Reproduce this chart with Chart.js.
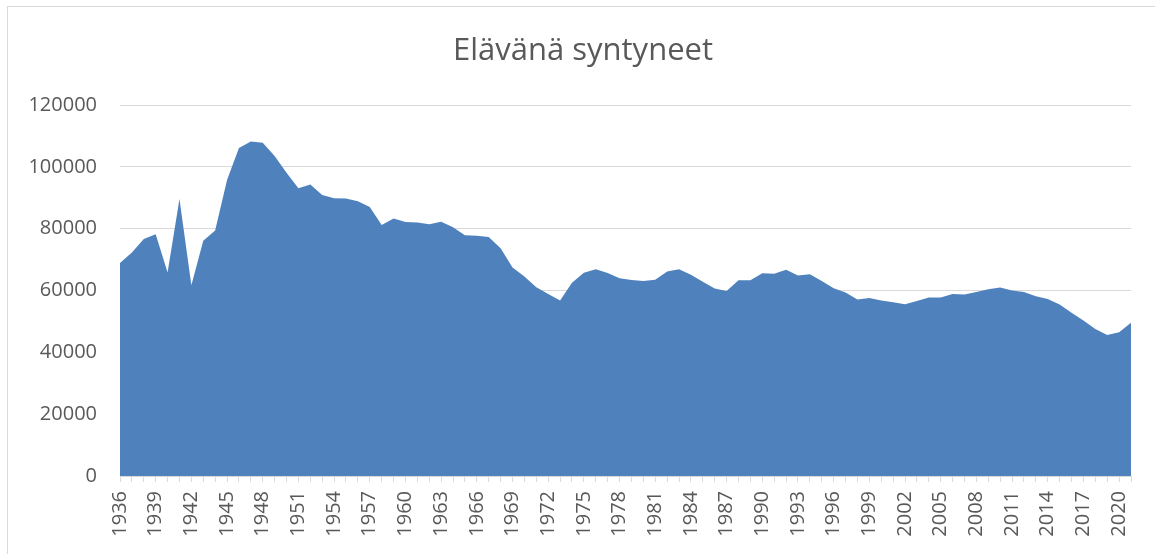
<!DOCTYPE html>
<html>
<head>
<meta charset="utf-8">
<script src="https://cdn.jsdelivr.net/npm/chart.js@4"></script>
<style>
  html, body { margin: 0; padding: 0; background: #fff; }
  #wrap { width: 1155px; height: 554px; position: relative; }
</style>
</head>
<body>
<div id="wrap"><canvas id="birthsChart" width="1155" height="554"></canvas></div>
<script>
// vuodet 1936-2021
const years = [];
for (let y = 1936; y <= 2021; y++) years.push(String(y));

// elävänä syntyneet (luettu kuvasta)
const births = [
  68895, 72319, 76695, 78164, 65849, 89565, 61672, 76112, 79446, 95758,
  106075, 108168, 107759, 103515, 98065, 93063, 94314, 90866, 89845, 89740,
  88896, 86985, 81148, 83253, 82129, 81996, 81454, 82251, 80428, 77885,
  77697, 77289, 73654, 67450, 64559, 61067, 58864, 56787, 62472, 65719,
  66846, 65659, 63983, 63428, 63064, 63469, 66106, 66892, 65076, 62796,
  60632, 59827, 63316, 63348, 65549, 65395, 66731, 64826, 65231, 63067,
  60723, 59329, 57108, 57574, 56742, 56189, 55555, 56630, 57758, 57745,
  58840, 58729, 59530, 60430, 60980, 59961, 59493, 58134, 57232, 55472,
  52814, 50321, 47577, 45613, 46463, 49594
];

const yTicks = [0, 20000, 40000, 60000, 80000, 100000, 120000];
const chartTitle = "Elävänä syntyneet";

const textColor = "#595959";
const gridColor = "#d9d9d9";
const fillColor = "#4f81bd";

// reunus ja otsikko
const frame = {
  id: "frame",
  beforeDraw(chart) {
    const ctx = chart.ctx;
    ctx.save();
    ctx.strokeStyle = gridColor;
    ctx.lineWidth = 1;
    ctx.strokeRect(7.5, 6.5, 1200, 600);
    ctx.restore();
  },
  afterDraw(chart) {
    const ctx = chart.ctx;
    ctx.save();
    ctx.fillStyle = textColor;
    ctx.font = "31px 'Open Sans'";
    ctx.textAlign = "center";
    ctx.textBaseline = "alphabetic";
    ctx.fillText(chartTitle, 583, 60);
    ctx.restore();
  },
};

var ctx = document.getElementById("birthsChart").getContext("2d");
var birthsChart = new Chart(ctx, {
  type: "line",
  data: {
    labels: years,
    datasets: [
      {
        label: chartTitle,
        data: births,
        backgroundColor: fillColor,
        borderColor: fillColor,
        borderWidth: 0,
        pointRadius: 0,
        fill: "origin",
        tension: 0,
      },
    ],
  },
  options: {
    responsive: false,
    animation: false,
    layout: { padding: { left: 7, right: 24, top: 105, bottom: 0 } },
    plugins: {
      legend: { display: false },
      tooltip: { enabled: false },
      title: { display: false },
    },
    scales: {
      x: {
        offset: false,
        afterFit: (scale) => {
          scale.height = 78;
          scale.paddingLeft = 0;
          scale.paddingRight = 0;
        },
        grid: {
          drawOnChartArea: false,
          drawTicks: true,
          tickLength: 6,
          color: gridColor,
        },
        border: { display: true, color: gridColor },
        ticks: {
          autoSkip: false,
          maxRotation: 90,
          minRotation: 90,
          padding: 9,
          color: textColor,
          font: { family: "'Open Sans'", size: 20 },
          callback: function (value, index) {
            return index % 3 === 0 ? years[index] : "";
          },
        },
      },
      y: {
        min: 0,
        max: 120000,
        afterFit: (scale) => {
          scale.width = 113;
          scale.paddingTop = 0;
          scale.paddingBottom = 0;
        },
        afterBuildTicks: (scale) => {
          scale.ticks = yTicks.map((v) => ({ value: v }));
        },
        grid: { color: gridColor, drawTicks: false, lineWidth: 1 },
        border: { display: false },
        ticks: {
          padding: 23,
          color: textColor,
          font: { family: "'Open Sans'", size: 20 },
          callback: (value) => String(value),
        },
      },
    },
  },
  plugins: [frame],
});
</script>
</body>
</html>
